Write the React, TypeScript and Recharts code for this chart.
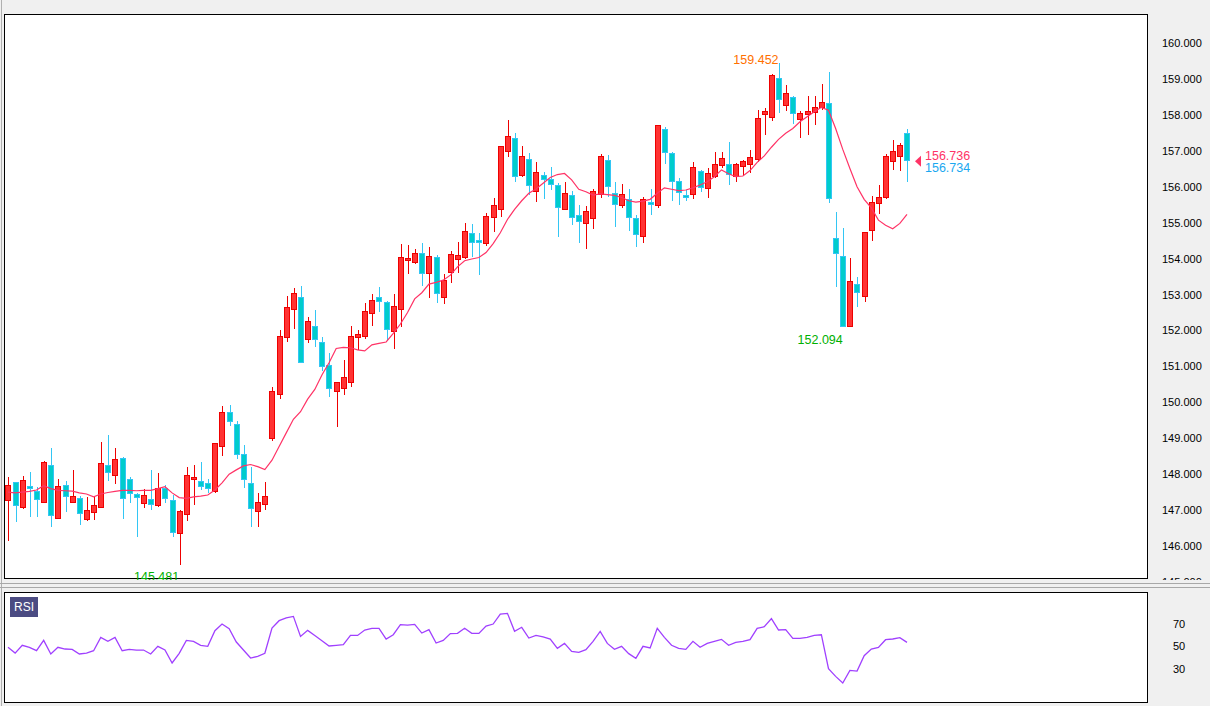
import React from 'react';
import { ComposedChart, Bar, Line, XAxis, YAxis, Scatter } from 'recharts';

const opens = [147.27,147.77,147.10,147.67,147.54,147.23,148.25,146.79,147.69,147.22,147.33,146.76,146.94,147.08,148.25,147.97,148.44,147.86,147.45,147.21,147.30,147.15,147.61,147.28,146.37,146.88,147.86,147.82,147.75,147.52,148.78,149.72,149.39,148.56,147.75,146.98,147.16,149.00,150.23,151.83,152.59,152.94,151.75,152.12,151.68,151.03,150.32,150.41,150.58,151.81,151.86,152.50,152.94,152.78,151.99,152.59,153.96,153.91,154.15,153.59,154.04,152.94,153.64,154.00,154.05,154.70,154.52,154.44,155.17,155.39,156.99,157.37,156.32,156.76,155.87,156.32,156.22,156.05,155.39,155.76,155.20,154.98,155.12,155.80,156.74,155.84,155.49,155.65,155.12,154.63,155.57,155.48,157.60,156.93,156.15,155.77,155.79,156.44,155.96,156.29,156.60,156.62,156.29,156.59,156.63,156.76,158.02,157.93,159.04,158.27,158.51,157.88,158.02,158.08,158.23,158.32,154.56,154.07,152.12,153.29,152.97,154.81,155.54,155.71,156.73,156.86,157.49];
const highs = [147.91,147.79,147.95,148.06,147.65,148.38,148.73,147.88,147.82,148.13,147.39,147.36,147.36,148.89,149.09,148.72,148.49,147.91,147.49,147.60,148.12,148.02,147.70,147.42,147.00,148.21,148.26,148.34,147.88,148.86,149.90,149.93,149.48,148.81,148.19,147.47,147.77,150.42,152.01,152.96,153.17,153.24,152.38,152.57,151.83,151.36,150.58,151.18,152.12,152.01,152.76,153.02,153.22,152.83,153.02,154.41,154.38,154.27,154.43,154.31,154.11,153.57,154.21,154.45,155.00,154.96,154.72,155.28,155.69,157.13,157.86,157.50,157.13,156.95,156.70,156.41,156.56,156.11,156.13,155.87,155.49,155.46,155.93,156.91,156.88,156.14,156.08,155.93,155.21,155.72,155.93,157.71,157.65,156.98,156.23,155.91,156.70,156.48,156.52,156.97,156.97,157.24,156.65,156.74,157.02,158.14,158.18,159.14,159.452,158.83,158.53,158.12,158.53,158.53,158.86,159.19,155.30,154.84,154.01,153.48,154.74,155.74,156.05,156.91,157.30,157.21,157.61];
const lows = [146.15,146.68,147.02,146.82,146.82,147.21,146.52,146.75,146.95,147.22,146.59,146.71,146.72,147.08,147.82,147.74,146.76,147.19,146.26,147.05,147.00,147.08,147.19,146.26,145.481,146.71,147.14,147.56,147.47,147.47,148.52,149.34,148.41,147.61,146.54,146.54,147.00,148.93,150.10,151.69,152.05,151.10,151.66,151.55,150.88,150.16,149.32,150.20,150.42,151.46,151.75,152.12,152.52,151.72,151.49,152.09,153.57,153.84,153.24,152.90,152.77,152.74,153.33,153.61,154.00,154.05,153.55,154.35,154.74,155.17,156.82,156.14,156.28,155.76,155.58,155.65,155.91,154.61,155.35,154.94,154.44,154.28,154.83,155.70,155.71,154.89,155.40,154.78,154.33,154.44,155.21,155.40,156.63,155.59,155.49,155.59,155.65,155.85,155.70,156.23,156.51,156.05,156.13,156.33,156.39,156.70,157.44,157.84,158.04,158.12,157.76,157.37,157.44,157.72,158.14,155.56,153.22,152.094,152.10,152.64,152.80,154.50,155.24,155.65,156.47,156.45,156.14];
const closes = [147.69,147.13,147.83,147.61,147.30,148.34,146.87,147.66,147.38,147.38,146.91,146.99,147.13,148.30,148.05,148.41,147.33,147.47,147.37,147.41,147.16,147.63,147.35,146.40,146.97,147.97,147.91,147.67,147.61,148.86,149.72,149.48,148.56,147.88,147.05,147.22,147.40,150.32,151.86,152.64,153.03,151.13,152.27,151.75,151.02,150.39,150.56,150.70,151.86,151.89,152.54,152.85,152.83,152.05,152.68,154.04,154.01,154.15,153.61,154.07,153.03,153.40,154.12,154.10,154.76,154.46,154.47,155.19,155.48,157.13,157.41,156.30,156.86,156.04,156.41,156.22,156.09,155.43,155.82,155.17,155.06,155.32,155.87,156.86,156.02,155.52,155.79,155.17,154.69,155.65,155.51,157.71,156.98,156.15,155.85,155.72,156.54,155.98,156.37,156.62,156.79,156.35,156.62,156.71,156.82,157.90,158.11,159.11,158.43,158.60,158.04,158.06,158.11,158.23,158.37,155.69,154.17,152.12,153.39,153.06,154.74,155.58,155.71,156.86,156.99,157.17,156.734];
const maValues = [147.50,147.48,147.50,147.52,147.56,147.68,147.60,147.55,147.54,147.53,147.48,147.45,147.37,147.45,147.49,147.52,147.55,147.55,147.54,147.55,147.55,147.60,147.65,147.48,147.35,147.33,147.37,147.39,147.42,147.56,147.76,148.00,148.12,148.23,148.27,148.21,148.13,148.39,148.77,149.15,149.53,149.74,150.09,150.36,150.76,151.10,151.50,151.53,151.52,151.46,151.43,151.60,151.64,151.68,151.92,152.18,152.50,152.88,153.05,153.29,153.34,153.40,153.54,153.77,153.94,153.99,154.03,154.17,154.42,154.72,155.09,155.37,155.61,155.82,155.94,156.10,156.26,156.34,156.37,156.19,155.93,155.86,155.77,155.80,155.78,155.76,155.70,155.61,155.57,155.60,155.65,155.82,155.97,155.93,155.89,155.91,155.97,156.05,156.14,156.28,156.47,156.36,156.28,156.30,156.45,156.68,156.86,157.10,157.32,157.49,157.62,157.81,157.95,158.09,158.21,158.13,157.62,157.04,156.51,156.00,155.65,155.41,155.07,154.93,154.83,154.98,155.23];
const rsiValues = [49.1,44.0,50.9,49.1,46.1,55.3,43.2,49.1,47.6,47.3,43.2,44.0,46.1,58.0,54.4,58.0,46.1,47.3,46.7,46.7,43.2,50.0,46.7,35.2,43.8,55.3,54.4,50.9,50.0,63.9,69.8,65.7,53.8,46.7,39.6,41.1,43.8,66.3,72.8,75.2,76.6,58.8,64.2,59.7,55.0,50.3,50.9,51.5,59.7,59.7,64.5,66.0,66.0,56.5,60.3,69.2,68.9,69.5,61.8,64.8,52.9,55.3,61.3,61.5,66.0,61.5,61.5,68.0,69.8,78.7,79.3,63.3,66.9,57.4,59.7,58.3,56.5,48.2,52.6,45.5,44.6,47.0,54.4,63.3,52.6,47.3,50.0,43.5,39.3,50.0,48.5,66.0,58.0,50.9,48.2,47.3,54.4,49.1,52.6,54.4,56.2,50.9,53.5,54.4,55.9,66.0,67.4,74.6,64.5,64.8,57.1,57.1,58.0,59.7,60.3,30.1,23.3,17.4,28.6,28.0,41.7,47.6,49.1,55.9,56.5,57.7,53.5];

const priceTicks = [145,146,147,148,149,150,151,152,153,154,155,156,157,158,159,160];
const rsiTicks = [30, 50, 70];
const extremeIndex = [108, 24, 117];
const extremeValue = [159.452, 145.481, 152.094];
const extremeKind = ['high', 'low', 'low'];
const lastIndex = 126;
const lastBid = 156.736;
const lastAsk = 156.734;

const X_DOMAIN: [number, number] = [-0.42, 159.64];
const FONT = '"Liberation Sans", Arial, sans-serif';
const UP_FILL = '#ff3333';
const UP_LINE = '#ee0000';
const DN_FILL = '#00cccc';
const DN_LINE = '#33c6f4';

const rows = opens.map((o, i) => ({
  i,
  open: o,
  high: highs[i],
  low: lows[i],
  close: closes[i],
  ma: maValues[i],
  rsi: rsiValues[i],
}));

const extremes = extremeIndex.map((i, k) => ({ i, v: extremeValue[k], kind: extremeKind[k] }));
const lastMark = [{ i: lastIndex, v: lastBid, ask: lastAsk }];

const Candle = (props: any) => {
  const { x, y, width, height, payload } = props;
  if (x == null || y == null || !payload) return null;
  const top = Math.min(y, y + height);
  const bot = Math.max(y, y + height);
  const { high, low, open, close } = payload;
  const span = high - low;
  const toY = (p: number) => (span > 0 ? top + ((high - p) / span) * (bot - top) : top);
  const up = close >= open;
  const cx = Math.round(x + width / 2);
  const bt = Math.round(toY(Math.max(open, close))) + 0.5;
  let bb = Math.round(toY(Math.min(open, close))) + 0.5;
  if (bb - bt < 1) bb = bt + 1;
  return (
    <g>
      <line x1={cx + 0.5} x2={cx + 0.5} y1={Math.round(top)} y2={Math.round(bot)} stroke={up ? UP_LINE : DN_LINE} strokeWidth={1} />
      <rect x={cx - 2.5} y={bt} width={5} height={bb - bt} fill={up ? UP_FILL : DN_FILL} stroke={up ? UP_LINE : DN_LINE} strokeWidth={1} />
    </g>
  );
};

const ExtremeLabel = (props: any) => {
  const { cx, cy, payload } = props;
  if (cx == null || cy == null) return null;
  const isHigh = payload.kind === 'high';
  return (
    <text x={cx} y={isHigh ? cy + 1.5 : cy + 16.5} textAnchor="end" fontSize={12.5} fontFamily={FONT} fill={isHigh ? '#ff7000' : '#00b000'}>
      {payload.v.toFixed(3)}
    </text>
  );
};

const LastMarker = (props: any) => {
  const { cx, cy, payload } = props;
  if (cx == null || cy == null) return null;
  return (
    <g>
      <polygon points={`${cx + 8},${cy + 1} ${cx + 14},${cy - 4.5} ${cx + 14},${cy + 6.5}`} fill="#ff3366" />
      <text x={cx + 18} y={cy - 0.5} fontSize={12.5} fontFamily={FONT} fill="#ff3366">{payload.v.toFixed(3)}</text>
      <text x={cx + 18} y={cy + 11.5} fontSize={12.5} fontFamily={FONT} fill="#1aa8f0">{payload.ask.toFixed(3)}</text>
    </g>
  );
};

const PriceTick = (p: any) => (
  <text x={p.x + 15} y={p.y + 4} fontSize={11} fontFamily={FONT} fill="#000">
    {Number(p.payload.value).toFixed(3)}
  </text>
);

const RsiTick = (p: any) => (
  <text x={p.x + 26} y={p.y + 4} fontSize={11} fontFamily={FONT} fill="#000">
    {p.payload.value}
  </text>
);

export default function App() {
  return (
    <div style={{ position: 'relative', width: 1210, height: 706, background: '#f0f0f0', overflow: 'hidden' }}>
      <style>{`body{margin:0}`}</style>
      <div style={{ position: 'absolute', left: 1, top: 0, width: 1, height: 706, background: '#b0b0b0' }} />
      <div style={{ position: 'absolute', left: 4, top: 14, width: 1142, height: 563, border: '1px solid #000', background: '#fff' }} />
      <div style={{ position: 'absolute', left: 4, top: 592, width: 1142, height: 109, border: '1px solid #000', background: '#fff' }} />
      <div style={{ position: 'absolute', left: 0, top: 0, width: 1210, height: 580, overflow: 'hidden' }}>
        <ComposedChart width={1210} height={584} data={rows} margin={{ top: 15, right: 0, bottom: 2, left: 5 }}>
          <XAxis dataKey="i" type="number" domain={X_DOMAIN} hide allowDataOverflow />
          <YAxis
            orientation="right"
            width={63}
            domain={[145.0, 160.78]}
            ticks={priceTicks}
            interval={0}
            tick={<PriceTick />}
            axisLine={false}
            tickLine={false}
            tickSize={0}
            tickMargin={0}
            allowDataOverflow
          />
          <Bar dataKey={(d: any) => [d.low, d.high]} shape={Candle} barSize={6} isAnimationActive={false} />
          <Line dataKey="ma" type="linear" stroke="#ff3366" strokeWidth={1.2} dot={false} activeDot={false} isAnimationActive={false} />
          <Scatter data={extremes} dataKey="v" shape={ExtremeLabel} isAnimationActive={false} />
          <Scatter data={lastMark} dataKey="v" shape={LastMarker} isAnimationActive={false} />
        </ComposedChart>
      </div>
      <div style={{ position: 'absolute', left: 0, top: 583, width: 1210, height: 1, background: '#a8a8a8' }} />
      <div style={{ position: 'absolute', left: 0, top: 587, width: 1210, height: 1, background: '#a8a8a8' }} />
      <div style={{ position: 'absolute', left: 0, top: 588 }}>
        <ComposedChart width={1210} height={118} data={rows} margin={{ top: 5, right: 0, bottom: 4, left: 5 }}>
          <XAxis dataKey="i" type="number" domain={X_DOMAIN} hide allowDataOverflow />
          <YAxis
            orientation="right"
            width={63}
            domain={[0.5, 97.4]}
            ticks={rsiTicks}
            interval={0}
            tick={<RsiTick />}
            axisLine={false}
            tickLine={false}
            tickSize={0}
            tickMargin={0}
            allowDataOverflow
          />
          <Line dataKey="rsi" type="linear" stroke="#a040ff" strokeWidth={1.3} dot={false} activeDot={false} isAnimationActive={false} />
        </ComposedChart>
      </div>
      <div style={{ position: 'absolute', left: 10, top: 597, width: 28, height: 20, background: '#4b4b82', color: '#fff', fontFamily: FONT, fontSize: 12, lineHeight: '20px', textAlign: 'center' }}>
        RSI
      </div>
    </div>
  );
}
